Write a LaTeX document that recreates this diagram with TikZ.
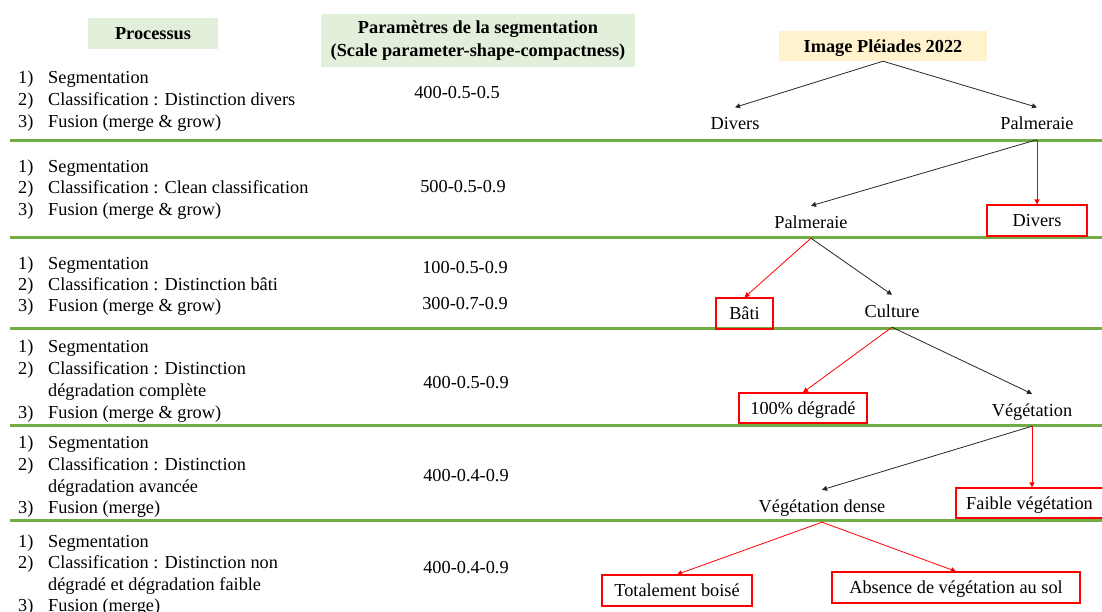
\documentclass[tikz,border=0pt]{standalone}
\usepackage{fontspec}
\setmainfont{Liberation Serif}
\usetikzlibrary{arrows.meta}
\definecolor{rulegreen}{RGB}{112,173,71}
\definecolor{headgreen}{RGB}{226,239,218}
\definecolor{headyellow}{RGB}{255,242,204}
\definecolor{boxred}{RGB}{255,0,0}
\newcommand\bodyfont{\fontsize{18.3}{23}\selectfont}
% one numbered step of a process: name, y, number, text
\newcommand\procline[4]{%
  \node[numlbl] (#1n) at (18,#2) {#3};
  \node[itemlbl] (#1t) at (48,#2) {#4};}
\begin{document}
\begin{tikzpicture}[x=1pt,y=-1pt,
  every node/.style={font=\bodyfont, inner sep=0pt, text height=12pt, text depth=0pt},
  numlbl/.style={anchor=west},
  itemlbl/.style={anchor=west},
  param/.style={anchor=center},
  headbox/.style={fill=headgreen, font=\bodyfont\bfseries, align=center},
  sepline/.style={draw=rulegreen, line width=3pt},
  leaf/.style={minimum height=32pt},
  redbox/.style={draw=boxred, line width=1.2pt},
  blackarrow/.style={draw=black!85, line width=0.8pt, -{Triangle[length=5pt,width=5pt]}},
  redarrow/.style={draw=boxred, line width=0.8pt, -{Triangle[length=5pt,width=5pt]}}]
\useasboundingbox (0,0) rectangle (1102,611);
\clip (0,0) rectangle (1102,611);

% column headers
\node[headbox, minimum width=130pt, minimum height=31pt] (hproc) at (153,33.5) {Processus};
\node[headbox, minimum width=314pt, minimum height=53pt, text height=, text depth=] (hparam) at (478,40.5)
  {Paramètres de la segmentation\\(Scale parameter-shape-compactness)};

% separators between the processing stages
\foreach \yy in {140,237,328,425,520}
  \draw[sepline] (10,\yy) -- (1102,\yy);

% stage 1
\procline{a1}{77}{1)}{Segmentation}
\procline{a2}{99}{2)}{Classification : Distinction divers}
\procline{a3}{121}{3)}{Fusion (merge \& grow)}
\node[param] (pa) at (457,92) {400-0.5-0.5};

% stage 2
\procline{b1}{166}{1)}{Segmentation}
\procline{b2}{187}{2)}{Classification : Clean classification}
\procline{b3}{209}{3)}{Fusion (merge \& grow)}
\node[param] (pb) at (463,186) {500-0.5-0.9};

% stage 3
\procline{c1}{263}{1)}{Segmentation}
\procline{c2}{284}{2)}{Classification : Distinction bâti}
\procline{c3}{305}{3)}{Fusion (merge \& grow)}
\node[param] (pc1) at (465,267) {100-0.5-0.9};
\node[param] (pc2) at (465,303) {300-0.7-0.9};

% stage 4
\procline{d1}{346}{1)}{Segmentation}
\procline{d2}{368}{2)}{Classification : Distinction}
\node[itemlbl] (d2b) at (48,390) {dégradation complète};
\procline{d3}{412}{3)}{Fusion (merge \& grow)}
\node[param] (pd) at (466,382) {400-0.5-0.9};

% stage 5
\procline{e1}{442}{1)}{Segmentation}
\procline{e2}{464}{2)}{Classification : Distinction}
\node[itemlbl] (e2b) at (48,486) {dégradation avancée};
\procline{e3}{507}{3)}{Fusion (merge)}
\node[param] (pe) at (466,475) {400-0.4-0.9};

% stage 6
\procline{f1}{541}{1)}{Segmentation}
\procline{f2}{562}{2)}{Classification : Distinction non}
\node[itemlbl] (f2b) at (48,584) {dégradé et dégradation faible};
\procline{f3}{605}{3)}{Fusion (merge)}
\node[param] (pf) at (466,567) {400-0.4-0.9};

% classification tree
\node[fill=headyellow, font=\bodyfont\bfseries, minimum width=208pt, minimum height=30pt] (img) at (883,46) {Image Pléiades 2022};
\node[leaf] (div1) at (735,123.5) {Divers};
\node[leaf] (palm1) at (1037,123.5) {Palmeraie};
\node[leaf] (palm2) at (811,222) {Palmeraie};
\node[redbox, minimum width=100pt, minimum height=31pt] (div2) at (1037,220.5) {Divers};
\node[redbox, minimum width=57pt, minimum height=31pt] (bati) at (744.5,313.5) {Bâti};
\node[leaf] (cult) at (892,311) {Culture};
\node[redbox, minimum width=128pt, minimum height=30pt] (degr) at (803,408) {100\% dégradé};
\node[leaf] (veg) at (1032,410) {Végétation};
\node[leaf] (vdense) at (822,506) {Végétation dense};
\node[redbox, minimum width=147pt, minimum height=30pt] (faible) at (1029.5,503) {Faible végétation};
\node[redbox, minimum width=150pt, minimum height=31pt] (boise) at (677,590.5) {Totalement boisé};
\node[redbox, minimum width=248pt, minimum height=31pt] (absence) at (956,587.5) {Absence de végétation au sol};

\draw[blackarrow] (img.south) -- (div1.north);
\draw[blackarrow] (img.south) -- (palm1.north);
\draw[blackarrow] (palm1.south) -- (palm2.north);
\draw[redarrow] (palm1.south) -- (palm1.south |- div2.north);
\draw[redarrow] (palm2.south) -- (bati.north);
\draw[blackarrow] (palm2.south) -- (cult.north);
\draw[redarrow] (cult.south) -- (degr.north);
\draw[blackarrow] (cult.south) -- (veg.north);
\draw[blackarrow] (veg.south) -- (vdense.north);
\draw[redarrow] (veg.south) -- (veg.south |- faible.north);
\draw[redarrow] (vdense.south) -- (boise.north);
\draw[redarrow] (vdense.south) -- (absence.north);
\end{tikzpicture}
\end{document}
